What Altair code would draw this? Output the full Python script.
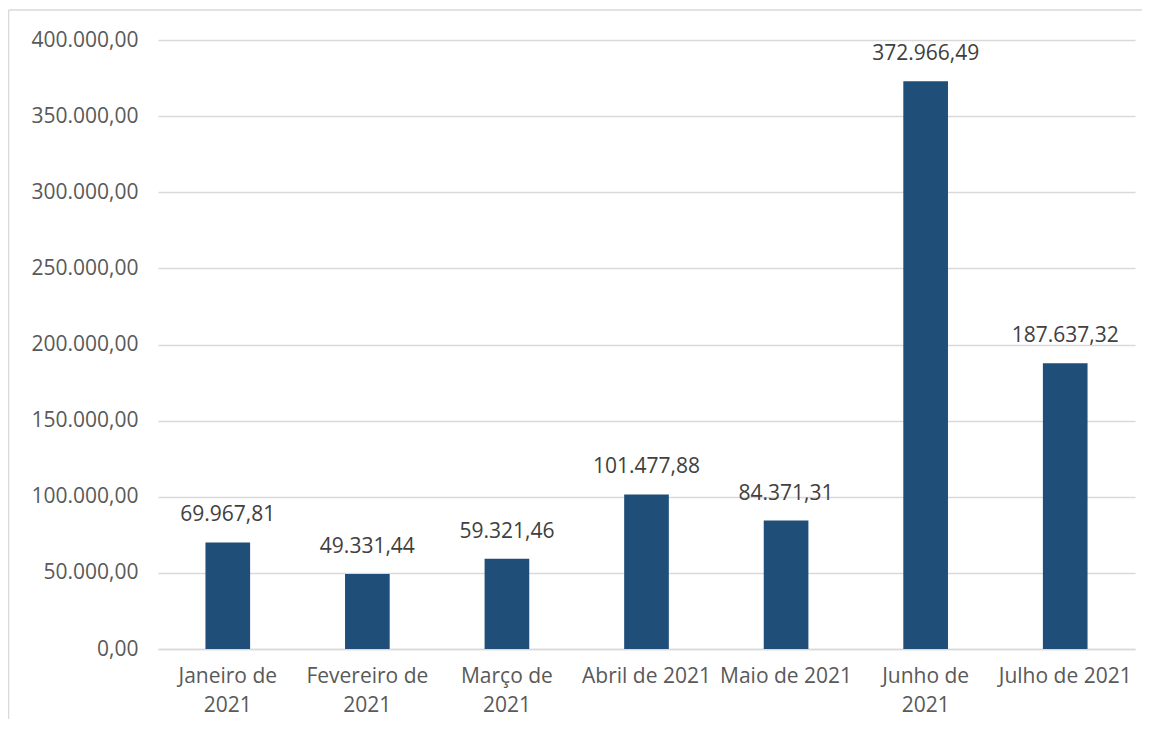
import altair as alt
import pandas as pd

months = ["Janeiro de 2021", "Fevereiro de 2021", "Março de 2021", "Abril de 2021",
          "Maio de 2021", "Junho de 2021", "Julho de 2021"]
values = [69967.81, 49331.44, 59321.46, 101477.88, 84371.31, 372966.49, 187637.32]
wrapped = {
    "Janeiro de 2021": ["Janeiro de", "2021"],
    "Fevereiro de 2021": ["Fevereiro de", "2021"],
    "Março de 2021": ["Março de", "2021"],
    "Junho de 2021": ["Junho de", "2021"],
}
y_ticks = [0, 50000, 100000, 150000, 200000, 250000, 300000, 350000, 400000]

df = pd.DataFrame({"mes": months, "valor": values})

expr = "datum.label"
for k, v in wrapped.items():
    expr = f"datum.label == '{k}' ? ['{v[0]}', '{v[1]}'] : ({expr})"

FONT = "Open Sans"
FS = 21
W, H = 977, 609

x = alt.X("mes:N", sort=months, title=None,
          scale=alt.Scale(paddingInner=0.68, paddingOuter=0.34),
          axis=alt.Axis(labelAngle=0, labelExpr=expr, labelFontSize=FS,
                        labelColor="#595959", labelFont=FONT, labelPadding=16,
                        labelLineHeight=29, ticks=False, grid=False,
                        domainColor="#D9D9D9", domainWidth=1.3, labelBaseline="top"))
y = alt.Y("valor:Q", title=None,
          scale=alt.Scale(domain=[0, 400000], nice=False),
          axis=alt.Axis(values=y_ticks, format=",.2f", labelFontSize=FS,
                        labelColor="#595959", labelFont=FONT, labelPadding=20,
                        ticks=False, domain=False, gridColor="#D9D9D9",
                        gridWidth=1.3))

bars = alt.Chart(df).mark_bar(color="#1F4E79").encode(x=x, y=y)
text = alt.Chart(df).mark_text(baseline="alphabetic", dy=-21, fontSize=FS,
                               font=FONT, color="#404040").encode(
    x=alt.X("mes:N", sort=months), y="valor:Q", text=alt.Text("valor:Q", format=",.2f"))

one = alt.Data(values=[{"a": 1}])
border_top = alt.Chart(one).mark_rule(color="#D9D9D9", strokeWidth=1.5).encode(
    x=alt.value(-149.5), x2=alt.value(W + 40), y=alt.value(-30))
border_left = alt.Chart(one).mark_rule(color="#D9D9D9", strokeWidth=1.5).encode(
    x=alt.value(-149.5), y=alt.value(-30), y2=alt.value(H + 120))

chart = alt.layer(border_top, border_left, bars, text).properties(
    width=W, height=H,
    autosize=alt.AutoSizeParams(type="none"),
    padding={"left": 150, "top": 32, "right": 7, "bottom": 70},
    view=alt.ViewBackground(stroke=None, strokeWidth=0),
).configure(
    locale=alt.Locale(number=alt.NumberLocale(decimal=",", thousands=".", grouping=[3],
                                               currency=["R$", ""])),
).configure_view(stroke=None, strokeWidth=0)

chart.save("out.html", embed_options={"renderer": "svg", "actions": False})
